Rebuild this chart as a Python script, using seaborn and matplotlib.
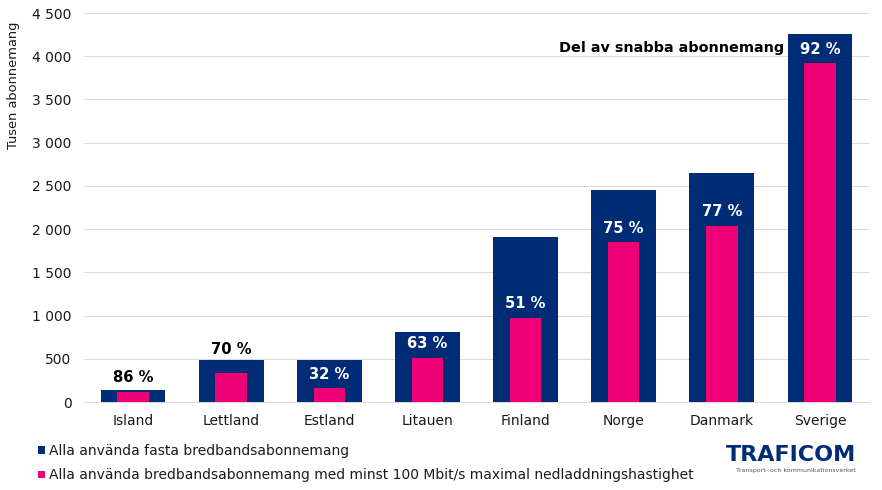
import matplotlib
matplotlib.use('Agg')
import matplotlib.pyplot as plt
from matplotlib.patches import Patch
from matplotlib.ticker import FuncFormatter
import seaborn as sns
import pandas as pd

# Data
lander = ['Island', 'Lettland', 'Estland', 'Litauen', 'Finland', 'Norge', 'Danmark', 'Sverige']
alla = [140, 490, 490, 810, 1910, 2450, 2650, 4260]
snabba = [120, 340, 160, 510, 975, 1850, 2040, 3920]
andel = [86, 70, 32, 63, 51, 75, 77, 92]
y_ticks = [0, 500, 1000, 1500, 2000, 2500, 3000, 3500, 4000, 4500]

NAVY = '#002b75'
PINK = '#ee0077'
GRID = '#d9d9d9'
TEXT = '#1a1a1a'

df = pd.DataFrame({'land': lander, 'alla': alla, 'snabba': snabba, 'andel': andel})

sns.set_theme(style='white')
plt.rcParams['font.family'] = ['DejaVu Sans']

fig = plt.figure(figsize=(8.82, 4.90), dpi=100)
# axes placed in pixels: x 84-869, y 13-402
ax = fig.add_axes([84 / 882, (490 - 402) / 490, 785 / 882, 389 / 490])

sns.barplot(data=df, x='land', y='alla', color=NAVY, width=0.66, saturation=1, linewidth=0, ax=ax, zorder=2)
sns.barplot(data=df, x='land', y='snabba', color=PINK, width=0.32, saturation=1, linewidth=0, ax=ax, zorder=3)

ax.set_xlim(-0.5, 7.5)
ax.set_ylim(0, 4500)
ax.set_yticks(y_ticks)
ax.yaxis.set_major_formatter(FuncFormatter(lambda v, _: f'{int(v):,}'.replace(',', ' ')))
ax.yaxis.grid(True, color=GRID, linewidth=0.75)
ax.set_axisbelow(True)
ax.set_xlabel('')
ax.set_ylabel('')
sns.despine(ax=ax, left=True, top=True, right=True)
ax.spines['bottom'].set_color(GRID)
ax.spines['bottom'].set_linewidth(0.75)
ax.tick_params(axis='both', length=0, labelsize=10, labelcolor=TEXT)
ax.tick_params(axis='x', pad=8.5)
ax.tick_params(axis='y', pad=9)

fig.text(14 / 882, 1 - 85 / 490, 'Tusen abonnemang', rotation=90, ha='center', va='center',
         fontsize=9.4, color=TEXT)

# Percent labels: above the pink bar, Lettland sits above the navy bar
for i, rad in df.iterrows():
    if rad['land'] == 'Lettland':
        y, off = rad['alla'], 10
    else:
        y, off = rad['snabba'], 14
    farg = 'black' if rad['land'] in ('Island', 'Lettland') else 'white'
    ax.annotate(f"{rad['andel']} %", (i, y), xytext=(0, off), textcoords='offset pixels',
                ha='center', va='center', fontsize=10.6, fontweight='bold', color=farg, zorder=5)

fig.text(784 / 882, 1 - 48 / 490, 'Del av snabba abonnemang', ha='right', va='center',
         fontsize=10.4, fontweight='bold', color='black')

handles = [Patch(color=NAVY, linewidth=0, label='Alla använda fasta bredbandsabonnemang'),
           Patch(color=PINK, linewidth=0, label='Alla använda bredbandsabonnemang med minst 100 Mbit/s maximal nedladdningshastighet')]
fig.legend(handles=handles, loc='upper left', bbox_to_anchor=(38 / 882, 1 - 444 / 490), frameon=False,
           fontsize=10, labelcolor=TEXT, handlelength=0.5, handleheight=0.5, handletextpad=0.3,
           labelspacing=0.75, borderpad=0, borderaxespad=0)

# Logo as text
fig.text(791 / 882, 1 - 455 / 490, 'TRAFICOM', ha='center', va='center', fontsize=16, fontweight='bold', color=NAVY)
fig.text(796 / 882, 1 - 470 / 490, 'Transport- och kommunikationsverket', ha='center', va='center', fontsize=4.5, color='#555555')

fig.savefig('out.png', dpi=100)
